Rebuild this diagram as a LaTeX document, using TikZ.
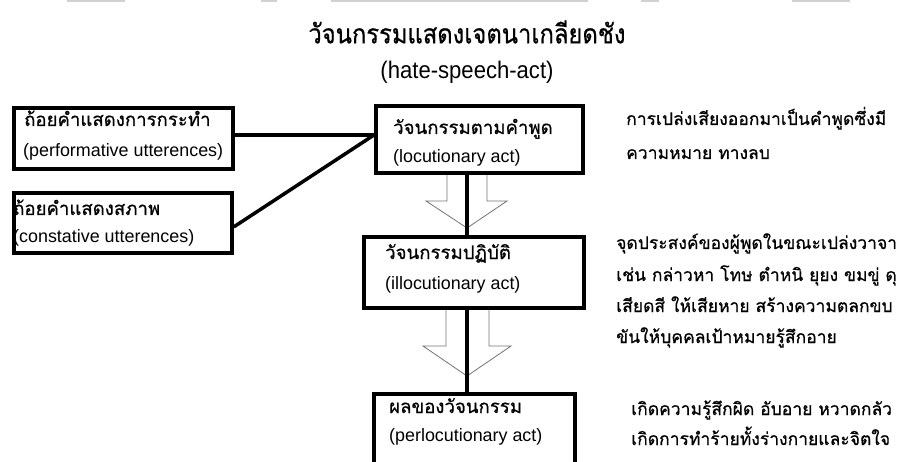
\documentclass[tikz,border=0pt]{standalone}
\usepackage{fontspec}
\setmainfont{Liberation Sans}
\newfontfamily\thaifont[Script=Thai,FakeBold=0.6]{Loma}
\begin{document}
\begin{tikzpicture}[x=1pt,y=-1pt,
  frame/.style={draw=black, line width=3.8pt, inner sep=0pt, anchor=north west},
  th/.style={font=\thaifont\fontsize{17.5}{20}\selectfont, anchor=base west, inner sep=0pt},
  thb/.style={font=\thaifont\fontsize{18.6}{21}\selectfont, anchor=base west, inner sep=0pt},
  la/.style={font=\fontsize{17.9}{20}\selectfont, anchor=base west, inner sep=0pt},
  link/.style={line width=3.5pt},
  shaft/.style={line width=4pt},
  hollow/.style={draw=black!55, line width=0.8pt},
  scrap/.style={fill=black!18, draw=none}]
\useasboundingbox (0,0) rectangle (915,462);
\clip (0,0) rectangle (915,462);
% cropped remnants at the top edge
\fill[scrap] (67,0) rectangle (125,2);
\fill[scrap] (261,0) rectangle (277,2);
\fill[scrap] (331,0) rectangle (588,2);
\fill[scrap] (641,0) rectangle (659,2);
\fill[scrap] (792,0) rectangle (850,2);
% title
\node[font=\thaifont\fontsize{27}{30}\selectfont, inner sep=0pt] (title) at (467,32) {\scalebox{0.88}[1]{วัจนกรรมแสดงเจตนาเกลียดชัง}};
\node[font=\fontsize{24}{28}\selectfont, inner sep=0pt] (subtitle) at (467,72) {\scalebox{0.92}[1]{(hate-speech-act)}};
% hollow arrows (behind)
\draw[hollow] (447,173) -- (447,201) -- (426,201) -- (467,228) -- (507,201) -- (487,201) -- (487,173);
\draw[hollow] (446,306) -- (446,346) -- (423,346) -- (467,376) -- (511,346) -- (489,346) -- (489,306);
% boxes
\node[frame, minimum width=219, minimum height=61] (perf) at (12,106) {};
\node[frame, minimum width=218, minimum height=60] (const) at (12,191) {};
\node[frame, minimum width=207, minimum height=67] (loc) at (374,104) {};
\node[frame, minimum width=220, minimum height=71] (ill) at (362,235) {};
\node[frame, minimum width=201, minimum height=120] (perl) at (372,392) {};
% box texts
\node[thb] (perfT) at (24,126) {ถ้อยคำแสดงการกระทำ};
\node[la] (perfL) at (23,157) {(performative utterences)};
\node[thb] (constT) at (13,215) {ถ้อยคำแสดงสภาพ};
\node[la] (constL) at (13,243) {(constative utterences)};
\node[thb] (locT) at (393,134) {วัจนกรรมตามคำพูด};
\node[la] (locL) at (393,163) {(locutionary act)};
\node[thb] (illT) at (385,259) {วัจนกรรมปฏิบัติ};
\node[la] (illL) at (385,289) {(illocutionary act)};
\node[thb] (perlT) at (389,413) {ผลของวัจนกรรม};
\node[la] (perlL) at (389,441) {(perlocutionary act)};
% connectors
\coordinate (meet) at (loc.west |- 0,135);
\draw[link] (perf.east |- meet) -- (meet);
\path (const.east) ++(0,4) coordinate (cst);
\draw[link] (cst) -- (meet);
\draw[shaft] (loc.south -| 467,0) -- (ill.north -| 467,0);
\draw[shaft] (ill.south -| 467,0) -- (perl.north -| 467,0);
% right descriptions
\node[th] (d1a) at (626,125) {การเปล่งเสียงออกมาเป็นคำพูดซึ่งมี};
\node[th] (d1b) at (626,159) {ความหมาย ทางลบ};
\node[th] (d2a) at (616,249) {จุดประสงค์ของผู้พูดในขณะเปล่งวาจา};
\node[th] (d2b) at (616,281) {เช่น กล่าวหา โทษ ตำหนิ ยุยง ขมขู่ ดุ};
\node[th] (d2c) at (616,312) {เสียดสี ให้เสียหาย สร้างความตลกขบ};
\node[th] (d2d) at (616,343) {ขันให้บุคคลเป้าหมายรู้สึกอาย};
\node[th] (d3a) at (631,415) {เกิดความรู้สึกผิด อับอาย หวาดกลัว};
\node[th] (d3b) at (631,445) {เกิดการทำร้ายทั้งร่างกายและจิตใจ};
\end{tikzpicture}
\end{document}
